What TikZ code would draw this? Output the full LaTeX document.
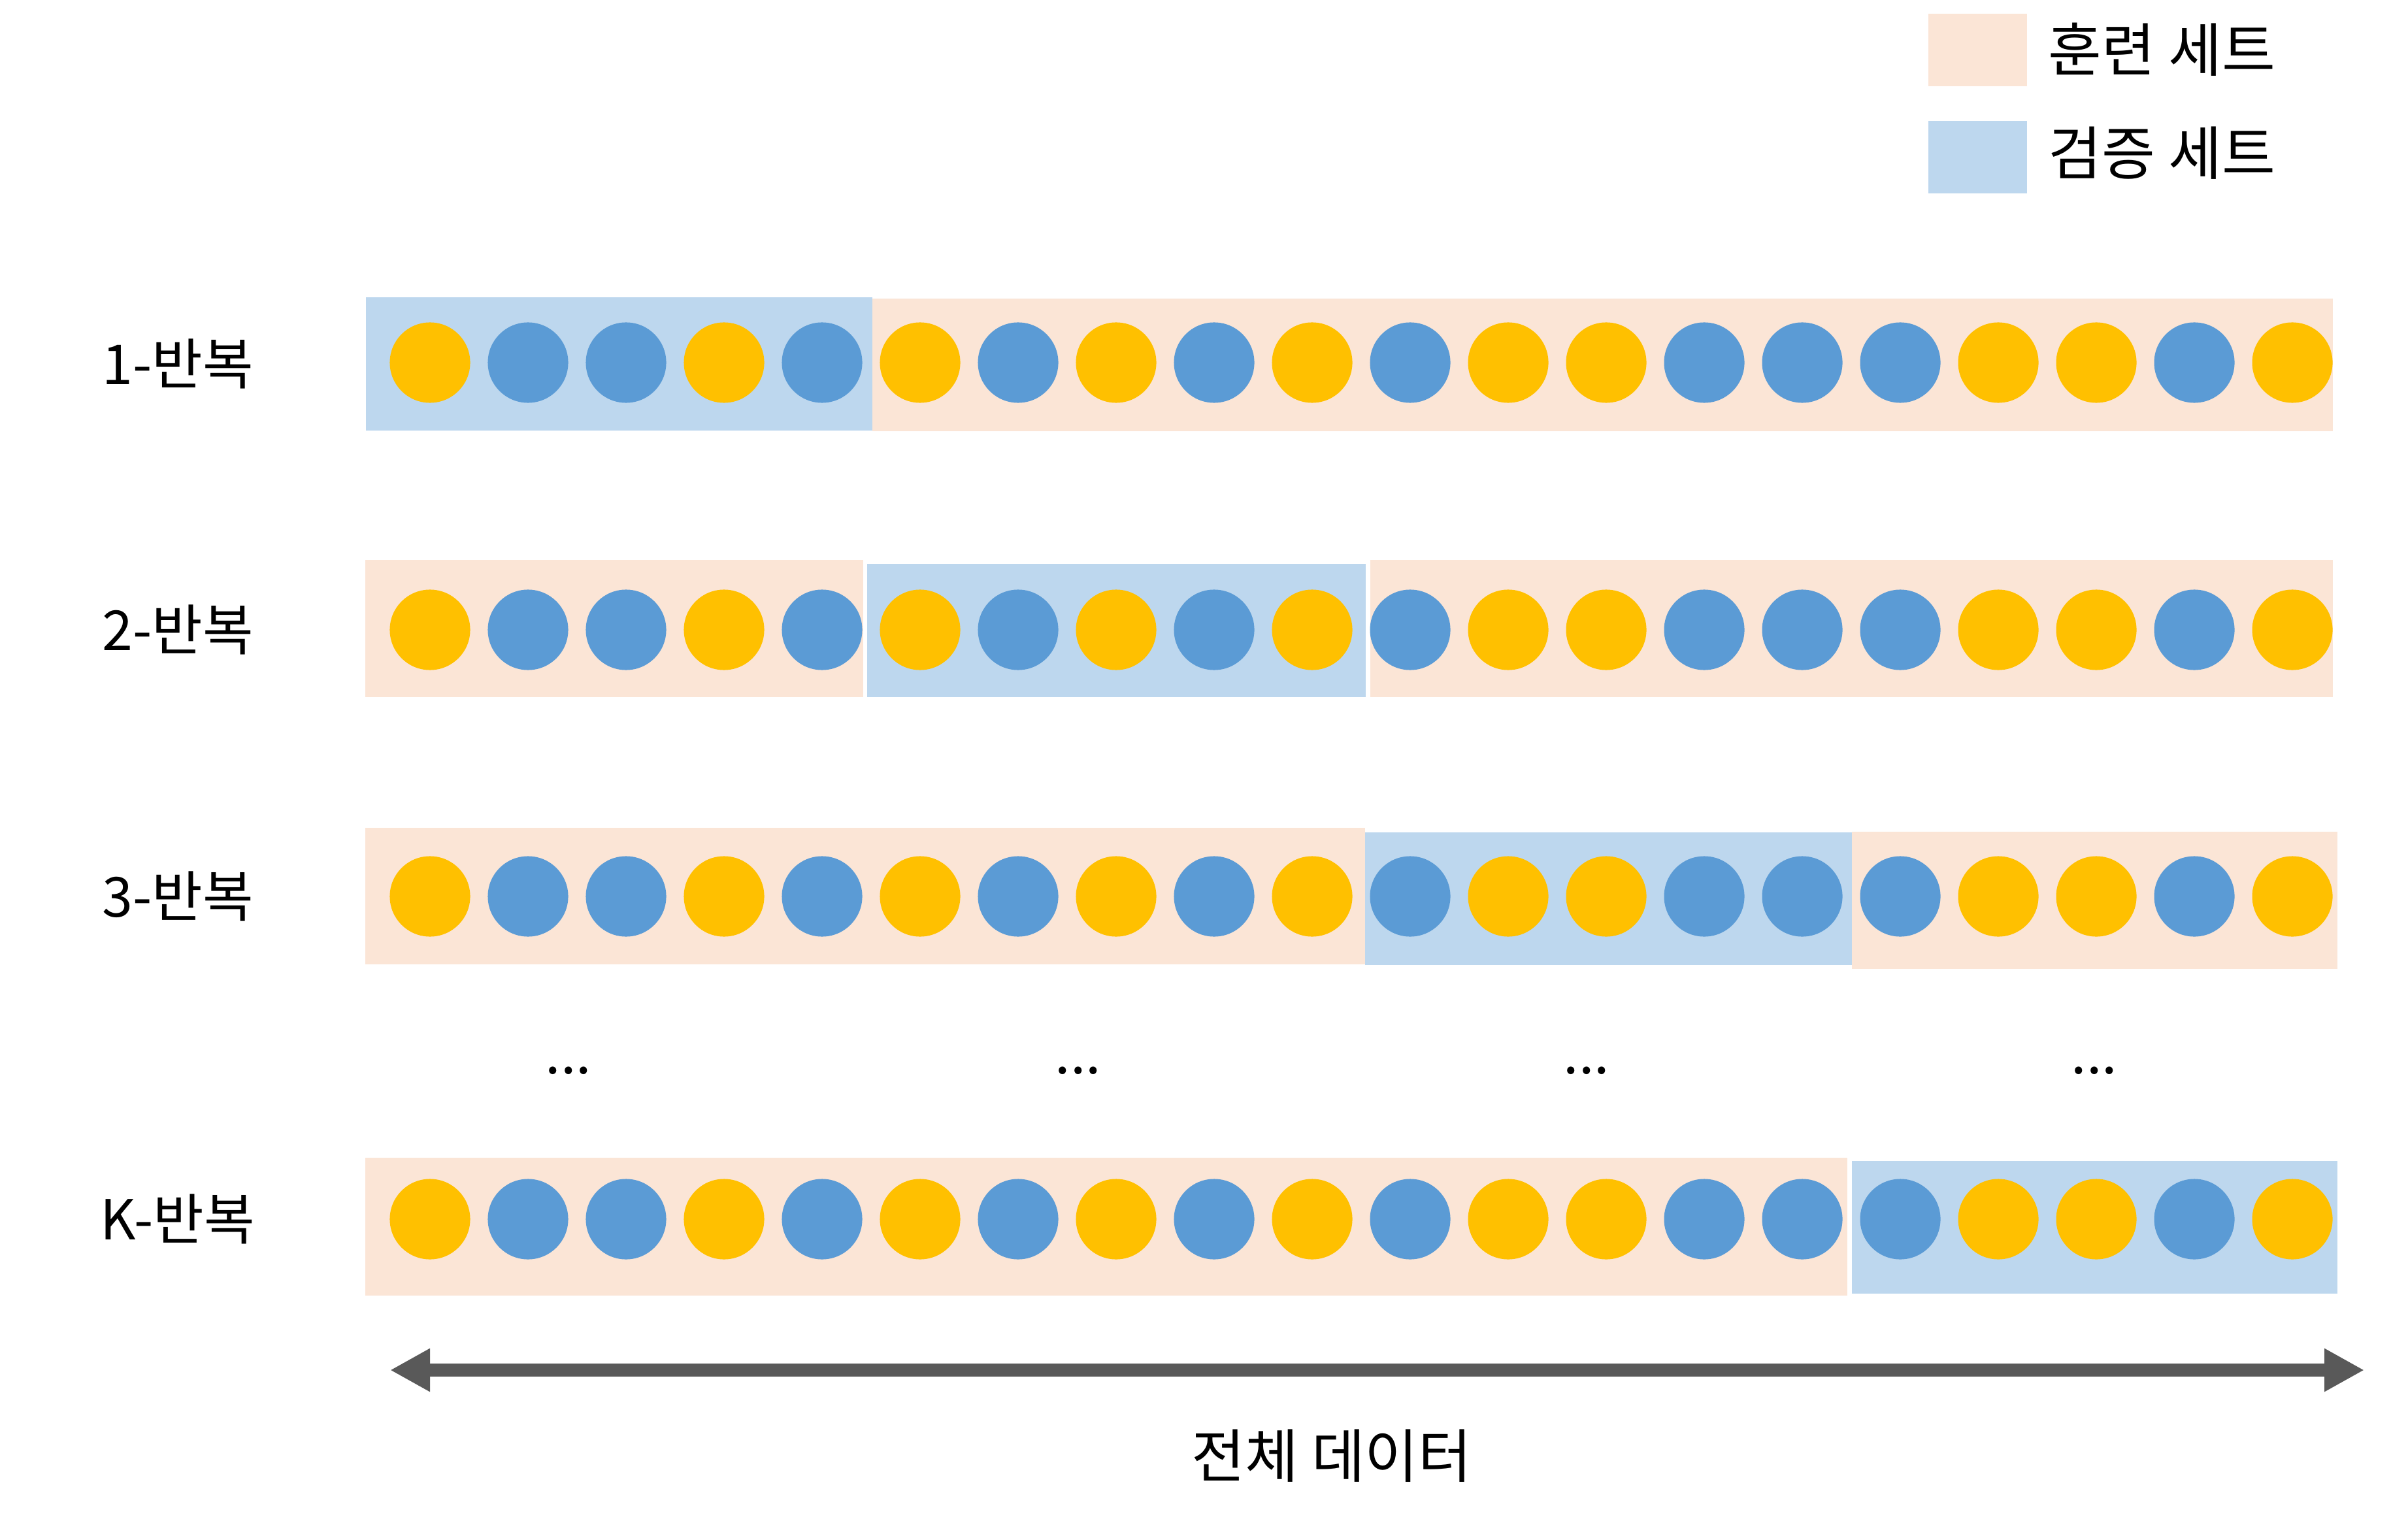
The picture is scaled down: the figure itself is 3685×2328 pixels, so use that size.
\documentclass[tikz,border=0pt]{standalone}
\usepackage{fontspec}
\setmainfont{Noto Sans CJK KR}
\usetikzlibrary{arrows.meta}
\definecolor{trainc}{HTML}{FBE5D6}
\definecolor{valc}{HTML}{BDD7EE}
\definecolor{bluedot}{HTML}{5B9BD5}
\definecolor{yeldot}{HTML}{FFC000}
\definecolor{arrowc}{HTML}{595959}
\begin{document}
\begin{tikzpicture}[x=0.01cm,y=-0.01cm,
  dot/.style={circle,minimum size=1.23cm,inner sep=0pt,draw=none},
  lbl/.style={font=\fontsize{24}{29}\selectfont,inner sep=0pt},
  biglbl/.style={font=\fontsize{25.3}{30}\selectfont,inner sep=0pt},
  train/.style={fill=trainc},
  val/.style={fill=valc},
  legbox/.style={minimum width=1.51cm,minimum height=1.11cm,inner sep=0pt}]
\useasboundingbox (0,0) rectangle (3685,2328);
% row bands
\fill[val]   (560,455)  rectangle (1335,659);
\fill[train] (1335,457) rectangle (3570,660);
\fill[train] (559,857)  rectangle (1321,1067);
\fill[val]   (1327,863) rectangle (2090,1067);
\fill[train] (2097,857) rectangle (3570,1067);
\fill[train] (559,1267) rectangle (2089,1476);
\fill[val]   (2089,1274) rectangle (2834,1477);
\fill[train] (2834,1273) rectangle (3577,1483);
\fill[train] (559,1772) rectangle (2827,1983);
\fill[val]   (2834,1777) rectangle (3577,1980);
% circles
\foreach \r/\y in {1/555,2/964,3/1372,K/1866}{
  \foreach \col [count=\i from 0] in {yeldot,bluedot,bluedot,yeldot,bluedot,yeldot,bluedot,yeldot,bluedot,yeldot,bluedot,yeldot,yeldot,bluedot,bluedot,bluedot,yeldot,yeldot,bluedot,yeldot}
    \node[dot,fill=\col] (r\r c\i) at ({658+150*\i},\y) {};
}
% row labels
\node[lbl] (l1) at (272,557) {1-반복};
\node[lbl] (l2) at (272,964) {2-반복};
\node[lbl] (l3) at (272,1372) {3-반복};
\node[lbl] (lK) at (272,1866) {K-반복};
% ellipsis
\node[lbl,anchor=base] (d1) at (870,1643) {...};
\node[lbl,anchor=base] (d2) at (1650,1643) {...};
\node[lbl,anchor=base] (d3) at (2428,1643) {...};
\node[lbl,anchor=base] (d4) at (3205,1643) {...};
% legend
\node[legbox,fill=trainc] (legtr) at (3026.5,76.5) {};
\node[legbox,fill=valc] (legva) at (3026.5,240.5) {};
\node[biglbl,anchor=west] (legtrt) at (3134,76) {훈련 세트};
\node[biglbl,anchor=west] (legvat) at (3134,234) {검증 세트};
% arrow
\coordinate (al) at (597,2097);
\coordinate (ar) at (3618,2097);
\draw[arrowc,line width=0.2cm,{Triangle[length=0.61cm,width=0.62cm]}-{Triangle[length=0.61cm,width=0.62cm]}] (al) -- (ar);
\node[biglbl] (total) at (2038,2228) {전체 데이터};
\end{tikzpicture}
\end{document}
